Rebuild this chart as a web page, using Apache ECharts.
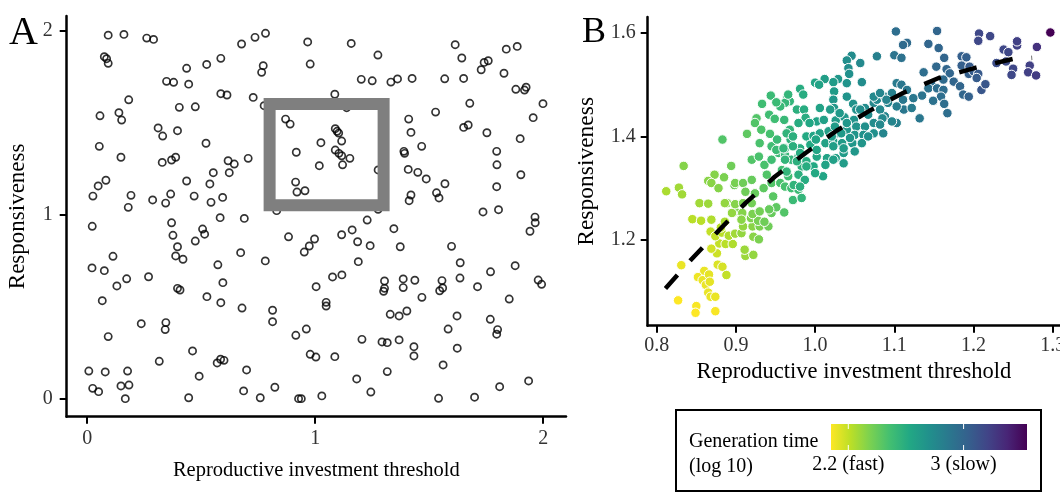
<!DOCTYPE html>
<html><head><meta charset="utf-8">
<script src="https://cdn.jsdelivr.net/npm/echarts@6/dist/echarts.min.js"></script>
<style>html,body{margin:0;padding:0;background:#fff}#c{width:1060px;height:493px}</style>
</head><body><div id="c"></div>
<script>
// ---------- DATA ----------
const panelAPoints = [
[0.092,1.974],[0.161,1.978],[0.261,1.958],[0.291,1.951],[0.075,1.857],[0.085,1.846],[0.092,1.821],[0.677,1.926],[0.736,1.962],[0.782,1.984],
[0.436,1.794],[0.524,1.815],[0.586,1.848],[0.772,1.808],[0.765,1.772],[0.348,1.723],[0.379,1.718],[0.445,1.708],[0.586,1.656],[0.613,1.649],
[0.728,1.636],[0.776,1.591],[0.182,1.623],[0.056,1.536],[0.139,1.553],[0.151,1.513],[0.404,1.582],[0.474,1.585],[0.311,1.470],[0.331,1.426],
[0.396,1.455],[0.053,1.370],[0.521,1.387],[0.148,1.311],[0.329,1.283],[0.370,1.296],[0.388,1.311],[0.618,1.292],[0.645,1.274],[0.706,1.305],
[0.623,1.227],[0.553,1.227],[0.436,1.182],[0.538,1.166],[0.082,1.186],[0.048,1.155],[0.025,1.100],[0.192,1.104],[0.180,1.039],[0.287,1.079],
[0.344,1.062],[0.366,1.111],[0.469,1.100],[0.543,1.066],[0.594,1.093],[0.870,1.518],[0.890,1.491],[0.917,1.338],[0.914,1.176],[0.920,1.122],
[0.831,1.021],[0.967,1.937],[1.158,1.929],[0.978,1.817],[1.275,1.866],[1.202,1.734],[1.250,1.726],[1.332,1.719],[1.361,1.736],[1.425,1.739],
[1.568,1.737],[1.614,1.922],[1.643,1.850],[1.741,1.826],[1.759,1.835],[1.728,1.786],[1.838,1.898],[1.886,1.913],[1.651,1.739],[1.828,1.767],
[1.880,1.680],[1.918,1.676],[1.925,1.691],[1.999,1.602],[1.956,1.526],[1.899,1.412],[1.678,1.604],[1.528,1.556],[1.410,1.518],[1.420,1.446],
[1.651,1.473],[1.671,1.486],[1.753,1.444],[1.467,1.370],[1.389,1.343],[1.392,1.332],[1.796,1.343],[1.797,1.270],[1.902,1.216],[1.796,1.151],
[1.408,1.245],[1.450,1.229],[1.487,1.193],[1.569,1.167],[1.532,1.118],[1.543,1.090],[1.420,1.106],[1.412,1.075],[1.736,1.014],[1.804,1.026],
[1.964,0.986],[1.086,1.653],[1.138,1.580],[1.088,1.466],[1.096,1.452],[1.103,1.442],[1.116,1.399],[1.025,1.390],[1.088,1.350],[1.104,1.332],
[1.116,1.319],[1.152,1.305],[1.120,1.270],[1.018,1.265],[0.955,1.129],[1.276,1.242],[1.276,1.028],[1.228,0.970],[0.022,0.936],[0.370,0.955],
[0.376,0.887],[0.396,0.825],[0.388,0.775],[0.420,0.757],[0.506,0.921],[0.515,0.893],[0.474,0.856],[0.583,0.983],[0.689,0.979],[0.883,0.879],
[0.673,0.793],[0.781,0.748],[0.573,0.727],[0.595,0.630],[0.113,0.773],[0.021,0.710],[0.075,0.695],[0.173,0.651],[0.130,0.612],[0.269,0.662],
[0.396,0.599],[0.407,0.590],[0.525,0.554],[0.586,0.521],[0.066,0.532],[0.679,0.492],[0.813,0.480],[0.813,0.418],[0.237,0.407],[0.345,0.413],
[0.342,0.375],[0.092,0.337],[0.915,0.344],[0.462,0.259],[0.316,0.203],[0.570,0.194],[0.585,0.214],[0.600,0.208],[0.491,0.122],[0.699,0.156],
[0.007,0.150],[0.079,0.145],[0.177,0.150],[0.148,0.069],[0.183,0.074],[0.024,0.056],[0.050,0.038],[0.167,0.000],[0.445,0.005],[0.686,0.042],
[0.759,0.005],[0.823,0.062],[0.927,0.000],[1.965,0.955],[1.942,0.909],[0.952,0.796],[0.974,0.829],[0.997,0.867],[1.116,0.890],[1.162,0.916],
[1.186,0.852],[1.241,0.831],[1.345,0.923],[1.373,0.825],[1.598,0.827],[1.189,0.744],[1.636,0.738],[1.769,0.689],[1.877,0.722],[1.004,0.608],
[1.076,0.661],[1.117,0.672],[1.304,0.639],[1.304,0.599],[1.300,0.583],[1.386,0.650],[1.386,0.603],[1.437,0.643],[1.556,0.641],[1.559,0.601],
[1.546,0.586],[1.635,0.655],[1.712,0.608],[1.978,0.644],[1.993,0.621],[1.468,0.550],[1.851,0.541],[1.048,0.523],[1.048,0.503],[1.329,0.458],
[1.368,0.449],[1.402,0.476],[1.622,0.449],[1.768,0.431],[1.800,0.375],[1.796,0.350],[1.583,0.378],[0.961,0.378],[1.205,0.322],[1.293,0.308],
[1.316,0.304],[1.368,0.319],[1.433,0.282],[1.433,0.232],[1.623,0.274],[0.978,0.241],[1.003,0.226],[1.086,0.228],[1.561,0.183],[1.316,0.147],
[1.182,0.107],[1.244,0.036],[0.939,0.000],[1.029,0.015],[1.541,0.002],[1.699,0.008],[1.809,0.065],[1.936,0.096]
];
// zoom box in panel A: [xMin, xMax, yMin, yMax]
const zoomBox = [0.8, 1.3, 1.05, 1.6];

// panel B: [threshold, responsiveness, log10 generation time]
const panelBPoints = [
[0.831,1.151,2.12],[0.860,1.140,2.12],[0.852,1.128,2.11],[0.858,1.122,2.12],[0.866,1.133,2.13],[0.862,1.113,2.12],[0.867,1.119,2.13],
[0.827,1.083,2.08],[0.850,1.072,2.09],[0.849,1.059,2.08],[0.874,1.062,2.09],[0.865,1.098,2.12],[0.868,1.090,2.12],[0.874,1.090,2.12],
[0.877,1.152,2.15],[0.883,1.148,2.16],[0.888,1.132,2.2],[0.912,1.169,2.28],[0.922,1.171,2.3],[0.876,1.174,2.18],[0.869,1.183,2.17],[0.879,1.193,2.2],[0.887,1.192,2.22],[0.896,1.192,2.24],[0.911,1.181,2.28],
[0.868,1.216,2.2],[0.874,1.207,2.2],[0.882,1.214,2.22],[0.891,1.208,2.24],[0.899,1.212,2.27],[0.907,1.213,2.3],[0.881,1.224,2.22],[0.886,1.235,2.25],
[0.845,1.240,2.22],[0.856,1.237,2.22],[0.869,1.239,2.24],[0.854,1.271,2.27],[0.865,1.270,2.28],[0.889,1.271,2.33],[0.899,1.255,2.35],
[0.834,1.343,2.33],[0.894,1.343,2.38],[0.812,1.294,2.25],[0.828,1.301,2.27],[0.832,1.288,2.27],[0.873,1.326,2.33],[0.885,1.321,2.35],[0.865,1.314,2.32],[0.869,1.310,2.32],[0.898,1.306,2.38],[0.878,1.300,2.33],
[0.909,1.226,2.3],[0.921,1.226,2.32],[0.930,1.226,2.35],[0.941,1.226,2.38],[0.922,1.206,2.32],[0.929,1.201,2.35],[0.895,1.252,2.3],[0.908,1.252,2.33],
[0.886,1.271,2.3],[0.899,1.269,2.33],[0.909,1.271,2.35],[0.920,1.271,2.37],[0.907,1.239,2.32],[0.919,1.242,2.34],[0.928,1.237,2.36],[0.936,1.235,2.38],
[0.945,1.252,2.4],[0.951,1.263,2.42],[0.961,1.253,2.45],[0.921,1.250,2.35],[0.930,1.255,2.37],[0.942,1.259,2.4],
[0.899,1.310,2.36],[0.909,1.310,2.38],[0.920,1.316,2.4],[0.912,1.293,2.38],[0.924,1.290,2.4],[0.935,1.300,2.42],[0.945,1.310,2.45],[0.956,1.310,2.47],[0.947,1.284,2.43],[0.962,1.303,2.48],[0.970,1.300,2.5],[0.979,1.297,2.52],[0.972,1.277,2.52],[0.983,1.281,2.55],
[0.920,1.355,2.45],[0.929,1.361,2.47],[0.936,1.345,2.47],[0.945,1.355,2.5],[0.954,1.368,2.52],[0.962,1.364,2.54],[0.970,1.355,2.55],[0.979,1.361,2.58],[0.983,1.342,2.58],[0.989,1.352,2.6],[0.966,1.323,2.5],[0.939,1.326,2.45],[0.958,1.335,2.5],
[1.078,1.555,2.85],[1.046,1.556,2.78],[1.040,1.547,2.77],[1.057,1.542,2.8],[1.042,1.532,2.77],[1.043,1.521,2.76],[1.059,1.505,2.78],[1.040,1.503,2.74],[1.029,1.511,2.72],[1.023,1.505,2.7],[1.024,1.487,2.7],[1.012,1.511,2.68],[1.000,1.504,2.64],[1.005,1.500,2.65],[0.981,1.492,2.6],
[0.944,1.479,2.52],[0.965,1.477,2.55],[0.968,1.468,2.55],[0.962,1.465,2.54],[0.956,1.458,2.53],[0.951,1.466,2.52],[0.977,1.452,2.58],[0.986,1.452,2.6],[1.023,1.471,2.72],[1.024,1.455,2.72],
[0.942,1.442,2.5],[0.949,1.434,2.5],[0.961,1.432,2.53],[0.926,1.435,2.45],[0.924,1.426,2.45],[0.932,1.413,2.46],[0.943,1.405,2.48],[0.914,1.405,2.42],[0.968,1.413,2.55],[0.988,1.436,2.6],[0.969,1.394,2.57],[0.883,1.394,2.45],[0.933,1.463,2.5],
[0.945,1.381,2.5],[0.951,1.374,2.52],[0.930,1.387,2.47],[0.952,1.394,2.52],[0.962,1.377,2.55],
[1.048,1.463,2.75],[1.052,1.452,2.76],[1.063,1.455,2.78],[1.074,1.465,2.8],[1.078,1.471,2.8],[1.088,1.477,2.82],[1.092,1.465,2.83],[1.097,1.484,2.85],[1.103,1.503,2.88],[1.109,1.500,2.9],[1.116,1.490,2.9],[1.111,1.471,2.9],[1.112,1.452,2.9],[1.103,1.458,2.87],[1.103,1.426,2.85],[1.088,1.439,2.82],[1.082,1.452,2.8],
[1.002,1.429,2.65],[1.011,1.432,2.67],[1.026,1.431,2.7],[1.037,1.437,2.72],[1.049,1.432,2.74],[1.052,1.419,2.74],[1.063,1.419,2.76],[1.074,1.426,2.78],[1.085,1.435,2.8],[1.097,1.429,2.82],
[0.989,1.400,2.62],[0.998,1.401,2.64],[1.006,1.406,2.66],[1.017,1.410,2.68],[1.027,1.406,2.7],[1.040,1.413,2.72],[1.050,1.403,2.73],[1.061,1.403,2.75],[1.074,1.406,2.76],
[0.981,1.377,2.6],[0.994,1.384,2.62],[1.001,1.394,2.64],[1.013,1.387,2.66],[1.023,1.390,2.68],[1.034,1.387,2.7],[1.047,1.387,2.72],[1.059,1.387,2.73],
[1.002,1.361,2.63],[1.015,1.358,2.65],[1.026,1.358,2.67],[1.036,1.368,2.7],[1.050,1.371,2.72],[0.998,1.342,2.62],[1.010,1.323,2.64],[1.013,1.345,2.65],
[1.086,1.406,2.82],
[0.966,1.481,2.55],[0.985,1.481,2.6],[1.040,1.477,2.74],[1.074,1.477,2.8],[1.082,1.484,2.82],[1.090,1.471,2.83],[1.006,1.455,2.66],[1.019,1.452,2.69],[1.031,1.445,2.71],[1.057,1.452,2.77],[1.067,1.442,2.78],
[0.979,1.426,2.6],[0.993,1.426,2.63],[1.025,1.419,2.7],[1.040,1.426,2.72],[1.082,1.423,2.8],
[0.964,1.406,2.56],[0.972,1.400,2.58],[1.021,1.400,2.69],[1.033,1.406,2.71],[1.044,1.397,2.73],[1.067,1.400,2.76],
[0.960,1.377,2.55],[0.972,1.381,2.58],[0.981,1.368,2.6],[1.002,1.374,2.64],[1.023,1.381,2.68],[1.036,1.377,2.7],
[0.962,1.355,2.55],[0.977,1.352,2.58],[0.989,1.342,2.6],[1.023,1.355,2.67],[1.036,1.348,2.69],
[0.964,1.332,2.55],[0.979,1.326,2.58],[0.987,1.316,2.6],[1.000,1.329,2.62],[0.973,1.306,2.56],[0.981,1.303,2.58],
[1.102,1.603,2.95],[1.154,1.604,3.0],[1.207,1.599,3.15],[1.206,1.585,3.15],[1.221,1.594,3.15],[1.297,1.601,3.44],[1.280,1.573,3.25],[1.255,1.576,3.18],[1.255,1.584,3.18],[1.238,1.568,3.15],[1.244,1.563,3.15],[1.229,1.542,3.12],[1.241,1.545,3.13],[1.250,1.531,3.15],[1.248,1.519,3.15],[1.271,1.537,3.18],[1.269,1.524,3.18],[1.279,1.518,3.2],[1.210,1.490,3.08],[1.215,1.501,3.08],
[1.116,1.581,2.97],[1.111,1.577,2.97],[1.143,1.579,3.0],[1.156,1.571,3.0],[1.100,1.557,2.92],[1.109,1.552,2.93],[1.163,1.552,3.0],[1.185,1.555,3.03],[1.191,1.553,3.03],[1.153,1.535,2.98],[1.166,1.530,3.0],[1.170,1.522,3.0],[1.137,1.524,2.95],[1.185,1.537,3.03],[1.195,1.535,3.05],[1.194,1.521,3.03],[1.200,1.526,3.05],[1.206,1.521,3.06],[1.204,1.513,3.05],[1.175,1.506,3.0],[1.183,1.497,3.0],[1.162,1.510,2.97],[1.147,1.500,2.95],[1.143,1.493,2.93],[1.154,1.493,2.95],[1.162,1.490,2.96],[1.187,1.481,3.0],[1.194,1.477,3.02],[1.159,1.477,2.95],[1.163,1.463,2.95],[1.149,1.469,2.93],[1.167,1.445,2.95],[1.132,1.435,2.9],[1.135,1.479,2.92],[1.124,1.474,2.9],[1.122,1.455,2.88]
];
// fitted trend (dashed)
const fitLine = [[0.811,1.106],[0.843,1.161],[0.877,1.216],[0.912,1.271],[0.949,1.322],[0.988,1.368],[1.027,1.411],[1.069,1.450],[1.111,1.484],[1.156,1.513],[1.203,1.533],[1.250,1.550],[1.274,1.552]];

const ticksA = [0, 1, 2];
const ticksBx = [0.8, 0.9, 1.0, 1.1, 1.2, 1.3];
const ticksBy = [1.2, 1.4, 1.6];
const genRange = [2.08, 3.44];
const legendTicks = [2.2, 3];
const legendTickLabels = ['2.2 (fast)', '3 (slow)'];
const viridisRev = ['#fde725','#bbdf27','#7ad151','#43bf71','#22a884','#21908c','#2a788e','#35608d','#414487','#482576','#440154'];

// ---------- CHART ----------
const FONT = '"Liberation Serif", "DejaVu Serif", serif';
const chart = echarts.init(document.getElementById('c'), null, {renderer: 'canvas'});

function axisCommon(extra) {
  return Object.assign({
    type: 'value', splitLine: {show: false},
    axisLine: {show: true, onZero: false, lineStyle: {color: '#000', width: 2.5}},
    nameTextStyle: {fontFamily: FONT, color: '#000'},
  }, extra);
}
function ticks(vals) { return {show: true, length: 7, customValues: vals, lineStyle: {color: '#000', width: 2}}; }

const boxPath = [[zoomBox[0], zoomBox[2]], [zoomBox[1], zoomBox[2]], [zoomBox[1], zoomBox[3]], [zoomBox[0], zoomBox[3]], [zoomBox[0], zoomBox[2]]];

// colour bar geometry (legend)
const cb = {x: 831, y: 424, w: 196, h: 26};
const cbX = v => cb.x + (v - genRange[0]) / (genRange[1] - genRange[0]) * cb.w;

const graphics = [
  {type: 'text', x: 9, y: 13, style: {text: 'A', fontSize: 40, fontFamily: FONT, fill: '#000'}},
  {type: 'text', x: 582, y: 15, style: {text: 'B', fontSize: 36, fontFamily: FONT, fill: '#000'}},
  {type: 'rect', shape: {x: 676, y: 410, width: 365, height: 81}, style: {fill: '#fff', stroke: '#000', lineWidth: 2}},
  {type: 'text', x: 689, y: 429, style: {text: 'Generation time\n(log 10)', fontSize: 20, lineHeight: 25, fontFamily: FONT, fill: '#000'}},
  {type: 'rect', shape: {x: cb.x, y: cb.y, width: cb.w, height: cb.h},
   style: {fill: new echarts.graphic.LinearGradient(0, 0, 1, 0, viridisRev.map((c, i) => ({offset: i / (viridisRev.length - 1), color: c})))}}
];
legendTicks.forEach((v, i) => {
  const x = cbX(v);
  graphics.push({type: 'line', shape: {x1: x, y1: cb.y, x2: x, y2: cb.y + 5}, style: {stroke: '#fff', lineWidth: 1}});
  graphics.push({type: 'line', shape: {x1: x, y1: cb.y + cb.h - 5, x2: x, y2: cb.y + cb.h}, style: {stroke: '#fff', lineWidth: 1}});
  graphics.push({type: 'text', x: x, y: 455, style: {text: legendTickLabels[i], fontSize: 20, fontFamily: FONT, fill: '#000', align: 'center'}});
});

chart.setOption({
  animation: false,
  grid: [
    {left: 66.7, top: 16, width: 499.3, height: 400.7, containLabel: false, outerBoundsMode: 'none'},
    {left: 647.7, top: 17, width: 412.3, height: 308.7, containLabel: false, outerBoundsMode: 'none'}
  ],
  xAxis: [
    axisCommon({gridIndex: 0, min: -0.09, max: 2.1,
      name: 'Reproductive investment threshold', nameLocation: 'middle', nameGap: 43,
      nameTextStyle: {fontFamily: FONT, color: '#000', fontSize: 20.5},
      axisTick: ticks(ticksA),
      axisLabel: {customValues: ticksA, margin: 12, fontSize: 20, fontFamily: FONT, color: '#333'}}),
    axisCommon({gridIndex: 1, min: 0.7886, max: 1.3092,
      name: 'Reproductive investment threshold', nameLocation: 'middle', nameGap: 35,
      nameTextStyle: {fontFamily: FONT, color: '#000', fontSize: 22.5},
      axisTick: ticks(ticksBx),
      axisLabel: {customValues: ticksBx, margin: 10, fontSize: 20, fontFamily: FONT, color: '#333', formatter: v => v.toFixed(1)}})
  ],
  yAxis: [
    axisCommon({gridIndex: 0, min: -0.098, max: 2.078,
      name: 'Responsiveness', nameLocation: 'middle', nameGap: 37,
      nameTextStyle: {fontFamily: FONT, color: '#000', fontSize: 23},
      axisTick: ticks(ticksA),
      axisLabel: {customValues: ticksA, margin: 14, fontSize: 20, fontFamily: FONT, color: '#333'}}),
    axisCommon({gridIndex: 1, min: 1.034, max: 1.631,
      name: 'Responsiveness', nameLocation: 'middle', nameGap: 49,
      nameTextStyle: {fontFamily: FONT, color: '#000', fontSize: 23.5},
      axisTick: ticks(ticksBy),
      axisLabel: {customValues: ticksBy, margin: 12, fontSize: 20, fontFamily: FONT, color: '#333', formatter: v => v.toFixed(1)}})
  ],
  visualMap: {type: 'continuous', show: false, seriesIndex: 2, dimension: 2, min: genRange[0], max: genRange[1], inRange: {color: viridisRev}},
  series: [
    {type: 'scatter', xAxisIndex: 0, yAxisIndex: 0, data: panelAPoints, symbolSize: 7.2, silent: true,
     itemStyle: {color: 'rgba(0,0,0,0)', borderColor: '#000', borderWidth: 1.7}},
    {type: 'line', xAxisIndex: 0, yAxisIndex: 0, data: boxPath, symbol: 'none', silent: true, z: 5,
     lineStyle: {color: '#7f7f7f', width: 12, join: 'miter', cap: 'square'}},
    {type: 'scatter', xAxisIndex: 1, yAxisIndex: 1, data: panelBPoints, symbolSize: 9.5, silent: true,
     itemStyle: {borderColor: '#fff', borderWidth: 1, opacity: 1}},
    {type: 'line', xAxisIndex: 1, yAxisIndex: 1, data: fitLine, symbol: 'none', silent: true, z: 5,
     lineStyle: {color: '#000', width: 4.5, type: [18, 19], cap: 'butt'}}
  ],
  graphic: graphics
});
</script>
</body></html>
